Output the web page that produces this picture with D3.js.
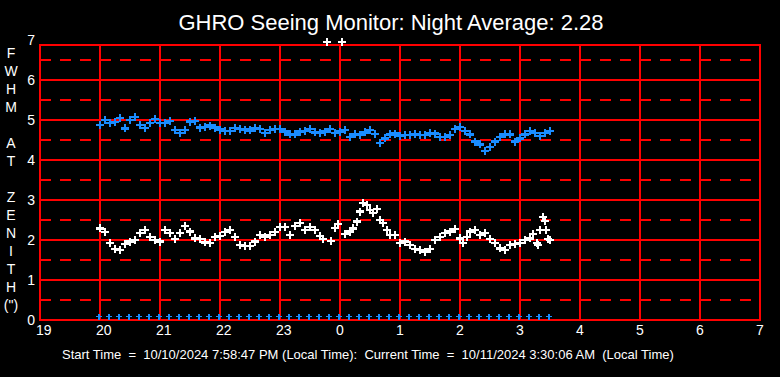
<!DOCTYPE html>
<html>
<head>
<meta charset="utf-8">
<script src="https://cdn.jsdelivr.net/npm/d3@7"></script>
<style>
  html, body { margin: 0; padding: 0; background: #000; }
  svg { display: block; }
</style>
</head>
<body>
<div id="chart"></div>
<script>
// hour tick labels (x axis is minutes since 19:00)
const hourTicks = [0, 60, 120, 180, 240, 300, 360, 420, 480, 540, 600, 660, 720];
const hourLabels = ["19", "20", "21", "22", "23", "0", "1", "2", "3", "4", "5", "6", "7"];
const yTicks = [0, 1, 2, 3, 4, 5, 6, 7];
const yLetters = ["F", "W", "H", "M", "", "A", "T", "", "Z", "E", "N", "I", "T", "H", "(\")"];

// blue series: one reading every 5 minutes starting at 20:00
const blueStart = 60;
const blueStep = 5;
const blueValues = [
  4.87, 5.0, 4.93, 4.95, 5.05, 4.79, 5.0, 5.08, 4.87, 4.8,
  4.92, 5.02, 4.92, 4.93, 4.98, 4.75, 4.68, 4.75, 4.96, 4.98,
  4.81, 4.82, 4.86, 4.81, 4.76, 4.72, 4.72, 4.8, 4.78, 4.76,
  4.74, 4.8, 4.77, 4.67, 4.75, 4.77, 4.77, 4.71, 4.64, 4.64,
  4.71, 4.73, 4.77, 4.69, 4.67, 4.71, 4.77, 4.67, 4.71, 4.75,
  4.58, 4.64, 4.62, 4.69, 4.75, 4.65, 4.43, 4.54, 4.64, 4.66,
  4.6, 4.62, 4.63, 4.64, 4.62, 4.63, 4.67, 4.66, 4.57, 4.57,
  4.63, 4.77, 4.83, 4.72, 4.64, 4.46, 4.39, 4.23, 4.33, 4.46,
  4.57, 4.64, 4.64, 4.46, 4.54, 4.64, 4.73, 4.67, 4.6, 4.67,
  4.73
];

// white series: [minutes since 19:00, FWHM]
const whitePoints = [
  [60, 2.29], [65, 2.2], [70, 1.92], [75, 1.77], [80, 1.75], [85, 1.9], [90, 1.96], [95, 2.0],
  [100, 2.17], [105, 2.25], [110, 2.08], [115, 2.0], [120, 1.96], [125, 2.25], [130, 2.17],
  [135, 2.02], [140, 2.17], [145, 2.35], [150, 2.21], [155, 2.04], [160, 2.02], [165, 1.94],
  [170, 1.92], [175, 2.08], [180, 2.1], [185, 2.2], [190, 2.25], [195, 2.08], [200, 1.88],
  [205, 1.85], [210, 1.85], [215, 1.96], [220, 2.12], [225, 2.08], [230, 2.12], [235, 2.2],
  [240, 2.33], [245, 2.33], [250, 2.13], [255, 2.35], [260, 2.42], [265, 2.25], [270, 2.33],
  [275, 2.25], [280, 2.1], [283, 2.02], [287, 6.95], [291, 1.98], [295, 2.3], [298, 2.4],
  [302, 6.95], [305, 2.15], [310, 2.21], [313, 2.29], [317, 2.46], [320, 2.71], [323, 2.92],
  [327, 2.88], [330, 2.75], [333, 2.67], [337, 2.77], [340, 2.5], [343, 2.42], [347, 2.25],
  [350, 2.13], [355, 2.13], [360, 1.92], [365, 1.96], [370, 1.88], [375, 1.77], [380, 1.75],
  [385, 1.71], [390, 1.77], [395, 2.0], [400, 2.08], [405, 2.17], [410, 2.21], [415, 2.27],
  [420, 2.04], [423, 1.92], [427, 2.08], [430, 2.21], [435, 2.25], [440, 2.13], [445, 2.17],
  [450, 2.02], [455, 1.92], [460, 1.79], [465, 1.75], [470, 1.88], [475, 1.9], [480, 1.93],
  [485, 2.0], [490, 2.04], [493, 2.15], [497, 1.92], [498, 1.88], [500, 2.25], [503, 2.58],
  [505, 2.48], [506, 2.25], [508, 2.02], [510, 2.0]
];

// small blue markers along the bottom, every 10 minutes from the start time
const baseTimes = [
  59, 69, 79, 89, 99, 109, 119, 129, 139, 149, 159, 169, 179, 189, 199, 209,
  219, 229, 239, 249, 259, 269, 279, 289, 299, 309, 319, 329, 339, 349, 359,
  369, 379, 389, 399, 409, 419, 429, 439, 449, 459, 469, 479, 489, 499, 509
];
const baseValue = 0.08;

const title = "GHRO Seeing Monitor: Night Average: 2.28";
const footer = "Start Time  =  10/10/2024 7:58:47 PM (Local Time):  Current Time  =  10/11/2024 3:30:06 AM  (Local Time)";

const width = 780;
const height = 377;
const font = "Arial, 'Liberation Sans', sans-serif";

const svg = d3.select("#chart")
  .append("svg")
  .attr("width", width)
  .attr("height", height)
  .style("background", "#000");

const x = d3.scaleLinear().domain([0, 720]).range([40, 760]);
const y = d3.scaleLinear().domain([0, 7]).range([320, 40]);
const plotTop = 45;

// title
svg.append("text")
  .attr("x", 391)
  .attr("y", 30)
  .attr("text-anchor", "middle")
  .attr("fill", "#fff")
  .style("font", `22px ${font}`)
  .text(title);

// grid: dashed half lines, solid whole lines
const grid = svg.append("g").attr("shape-rendering", "crispEdges");

grid.selectAll(".half")
  .data(yTicks.slice(0, 7).map(d => d + 0.5))
  .join("line")
  .attr("x1", x(0)).attr("x2", x(720))
  .attr("y1", d => y(d)).attr("y2", d => y(d))
  .attr("stroke", "#ff0000")
  .attr("stroke-width", 2)
  .attr("stroke-dasharray", "11,9");

grid.selectAll(".whole")
  .data(yTicks.slice(1, 7))
  .join("line")
  .attr("x1", x(0)).attr("x2", x(720))
  .attr("y1", d => y(d)).attr("y2", d => y(d))
  .attr("stroke", "#ff0000")
  .attr("stroke-width", 2);

grid.selectAll(".vert")
  .data(hourTicks.slice(1, -1))
  .join("line")
  .attr("x1", d => x(d)).attr("x2", d => x(d))
  .attr("y1", plotTop).attr("y2", y(0))
  .attr("stroke", "#ff0000")
  .attr("stroke-width", 2);

// frame
grid.append("rect")
  .attr("x", x(0))
  .attr("y", plotTop)
  .attr("width", x(720) - x(0))
  .attr("height", y(0) - plotTop)
  .attr("fill", "none")
  .attr("stroke", "#ff0000")
  .attr("stroke-width", 2);

// plus marker path
const cross = (s) => `M${-s},0H${s}M0,${-s}V${s}`;

const marks = svg.append("g").attr("shape-rendering", "crispEdges");

marks.selectAll(".blue")
  .data(blueValues)
  .join("path")
  .attr("transform", (d, i) => `translate(${x(blueStart + i * blueStep)},${y(d)})`)
  .attr("d", cross(4))
  .attr("stroke", "#1a8cff")
  .attr("stroke-width", 2.5);

marks.selectAll(".white")
  .data(whitePoints)
  .join("path")
  .attr("transform", d => `translate(${x(d[0])},${y(d[1])})`)
  .attr("d", cross(4))
  .attr("stroke", "#fff")
  .attr("stroke-width", 2.5);

marks.selectAll(".base")
  .data(baseTimes)
  .join("path")
  .attr("transform", d => `translate(${x(d)},${y(baseValue)})`)
  .attr("d", cross(3))
  .attr("stroke", "#1a8cff")
  .attr("stroke-width", 1.2);

// y tick labels
svg.selectAll(".ylab")
  .data(yTicks)
  .join("text")
  .attr("x", 35)
  .attr("y", d => y(d))
  .attr("dy", "0.36em")
  .attr("text-anchor", "end")
  .attr("fill", "#fff")
  .style("font", `14px ${font}`)
  .text(d => d);

// x tick labels
svg.selectAll(".xlab")
  .data(hourTicks)
  .join("text")
  .attr("x", d => x(d) - 4)
  .attr("y", 335)
  .attr("fill", "#fff")
  .style("font", `14px ${font}`)
  .text((d, i) => hourLabels[i]);

// vertical axis title, one letter per line
svg.selectAll(".ytitle")
  .data(yLetters)
  .join("text")
  .attr("x", 11)
  .attr("y", (d, i) => 58 + i * 18)
  .attr("text-anchor", "middle")
  .attr("fill", "#fff")
  .style("font", `14px ${font}`)
  .text(d => d);

// footer
svg.append("text")
  .attr("x", 62)
  .attr("y", 359)
  .attr("fill", "#fff")
  .attr("xml:space", "preserve")
  .style("white-space", "pre")
  .style("font", `13px ${font}`)
  .text(footer);
</script>
</body>
</html>
